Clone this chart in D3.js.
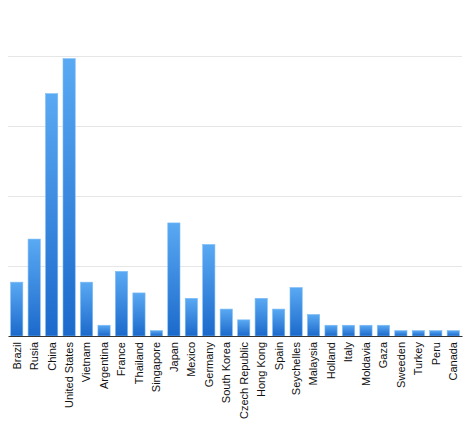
<!DOCTYPE html>
<html>
<head>
<meta charset="utf-8">
<script src="https://cdn.jsdelivr.net/npm/d3@7"></script>
<style>
  body { margin: 0; background: #fff; }
  svg { display: block; font-family: "Liberation Sans", Arial, sans-serif; }
</style>
</head>
<body>
<svg class="chart" width="469" height="434"></svg>
<script>
const countries = ['Brazil', 'Rusia', 'China', 'United States', 'Vietnam', 'Argentina', 'France',
  'Thailand', 'Singapore', 'Japan', 'Mexico', 'Germany', 'South Korea', 'Czech Republic',
  'Hong Kong', 'Spain', 'Seychelles', 'Malaysia', 'Holland', 'Italy', 'Moldavia', 'Gaza',
  'Sweeden', 'Turkey', 'Peru', 'Canada'];
const counts = [10, 18, 45, 51.5, 10, 2, 12, 8, 1, 21, 7, 17, 5, 3, 7, 5, 9, 4, 2, 2, 2, 2, 1, 1, 1, 1];
const gridTicks = [13, 26, 39, 52];

const width = 469, height = 434;
const margin = { top: 56, right: 7, bottom: 98, left: 8 };

const svg = d3.select('.chart');

const data = countries.map((c, i) => ({ name: c, value: counts[i] }));

const xscale = d3.scaleBand()
  .domain(countries)
  .range([margin.left, width - margin.right])
  .paddingInner(0.3)
  .paddingOuter(0.15);

const yscale = d3.scaleLinear()
  .domain([0, 52])
  .range([height - margin.bottom, margin.top]);

// gradient for bars
const defs = svg.append('defs');
const grad = defs.append('linearGradient')
  .attr('id', 'barGrad')
  .attr('x1', 0).attr('y1', 0).attr('x2', 0).attr('y2', 1);
grad.append('stop').attr('offset', '0%').attr('stop-color', '#5aa9f3');
grad.append('stop').attr('offset', '100%').attr('stop-color', '#1b69cb');

// gridlines
svg.append('g')
  .attr('class', 'grid')
  .attr('transform', `translate(${margin.left},0)`)
  .call(d3.axisLeft(yscale).tickValues(gridTicks)
    .tickSize(-(width - margin.left - margin.right))
    .tickFormat(''))
  .call(g => g.select('.domain').remove())
  .selectAll('line')
  .attr('stroke', '#e6e6e6');

// bars
svg.append('g').selectAll('rect')
  .data(data)
  .join('rect')
  .attr('x', d => xscale(d.name))
  .attr('y', d => yscale(d.value))
  .attr('width', xscale.bandwidth())
  .attr('height', d => yscale(0) - yscale(d.value))
  .attr('fill', 'url(#barGrad)')
  .attr('stroke', '#7dbdf6')
  .attr('stroke-width', 0.6);

// x axis
const xAxis = d3.axisBottom(xscale).tickSize(0).tickPadding(0);
const gx = svg.append('g')
  .attr('class', 'xAxis')
  .attr('transform', `translate(0,${yscale(0)})`)
  .call(xAxis);

gx.select('.domain').attr('stroke', '#333').attr('stroke-width', 1.2);

gx.selectAll('text')
  .attr('fill', '#111')
  .style('font-size', '11px')
  .attr('text-anchor', 'end')
  .attr('dy', '0.35em')
  .attr('transform', 'translate(0,6)rotate(-90)')
  .attr('x', 0)
  .attr('y', 0);
</script>
</body>
</html>
